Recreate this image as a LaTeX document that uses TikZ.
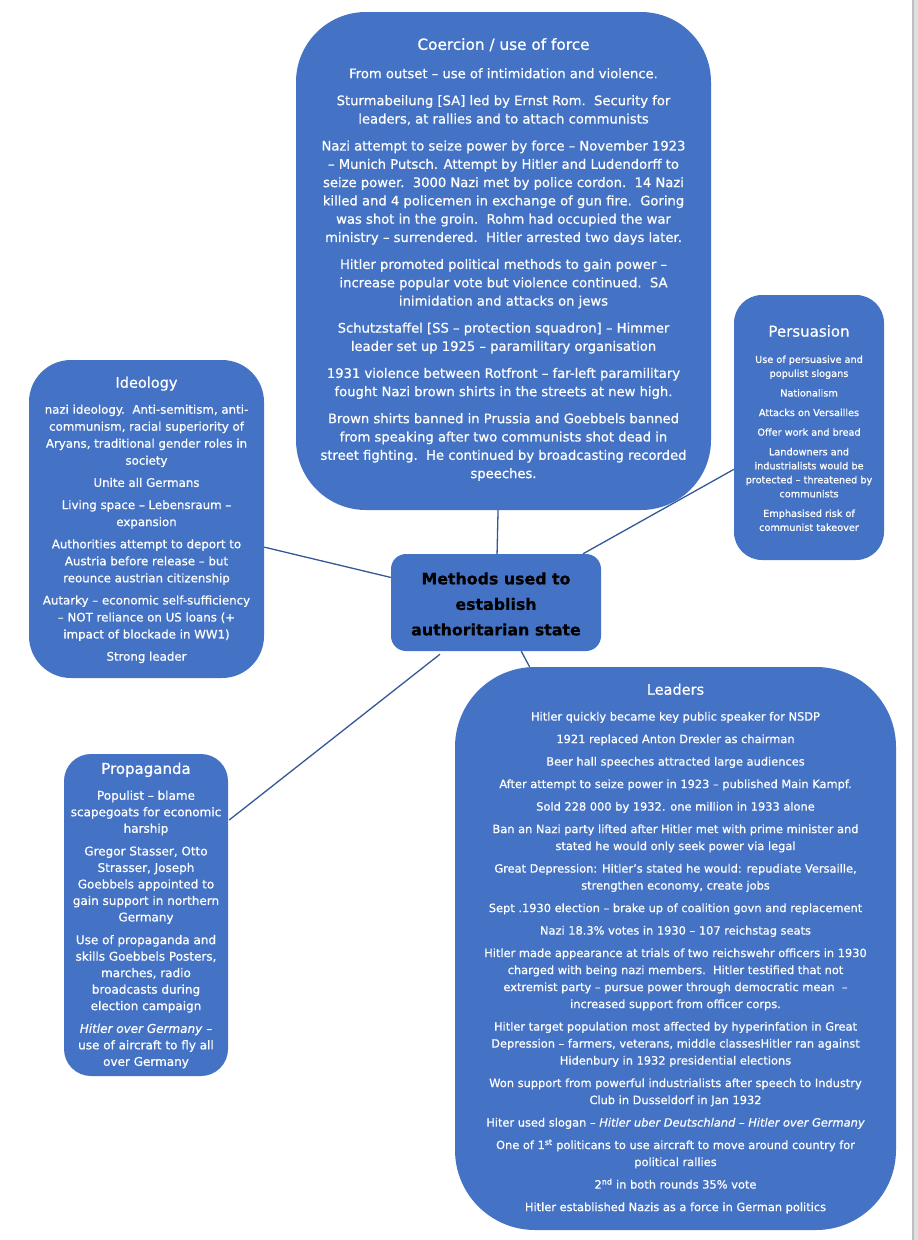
\documentclass[tikz,border=0pt]{standalone}
\usepackage{fontspec}
\setmainfont{DejaVu Sans}[FakeBold=0.7]
\definecolor{boxblue}{RGB}{68,114,196}
\definecolor{linkblue}{RGB}{52,88,150}
\definecolor{edgegray}{RGB}{190,190,190}
\definecolor{edgelight}{RGB}{222,222,222}
\begin{document}
\begin{tikzpicture}[x=1pt,y=-1pt,
  box/.style={fill=boxblue, draw=none, inner sep=0pt},
  txt/.style={text=white, align=center, inner sep=0pt, anchor=north},
  ttl/.style={txt, font=\fontsize{14.5}{17}\selectfont},
  conn/.style={draw=linkblue, line width=1.3pt}]
\useasboundingbox (0,0) rectangle (918,1240);
\fill[white] (0,0) rectangle (918,1240);
\fill[edgelight] (912,0) rectangle (918,1240);
\fill[edgegray] (912,0) rectangle (913.5,1240);

% boxes
\node[box, minimum width=415pt, minimum height=498pt, rounded corners=70pt] (coer) at (503.5,261) {};
\node[box, minimum width=235pt, minimum height=318pt, rounded corners=42pt] (ideo) at (146.5,519) {};
\node[box, minimum width=150pt, minimum height=265pt, rounded corners=28pt] (pers) at (809,427.5) {};
\node[box, minimum width=210pt, minimum height=97pt, rounded corners=15pt] (cen) at (496,602.5) {};
\node[box, minimum width=164pt, minimum height=322pt, rounded corners=27pt] (prop) at (146,915) {};
\node[box, minimum width=441pt, minimum height=563pt, rounded corners=80pt] (lead) at (675.5,948.5) {};

% connectors
\draw[conn] (coer) -- (cen);
\draw[conn] (pers) -- (cen);
\draw[conn] (ideo) -- (cen);
\draw[conn] (lead) -- (cen);
\draw[conn] ([xshift=1pt,yshift=95pt]prop.east) -- ([xshift=-56pt,yshift=-3pt]cen.south);

% central
\node[align=center, inner sep=0pt, text=black, font=\bfseries\fontsize{15.8}{25.5}\selectfont] (centxt) at (496,604)
  {Methods used to\\ establish\\ authoritarian state};

% coercion
\node[ttl, font=\fontsize{15.3}{17}\selectfont] (coert) at (503.5,38) {Coercion / use of force};
\node[txt, font=\fontsize{13.15}{18.3}\selectfont] (coerb) at (503.5,68) {%
From outset – use of intimidation and violence.\\[8.7pt]
Sturmabeilung [SA] led by Ernst Rom.\ \ Security for\\
leaders, at rallies and to attach communists\\[8.7pt]
Nazi attempt to seize power by force – November 1923\\
– Munich Putsch. Attempt by Hitler and Ludendorff to\\
seize power.\ \ 3000 Nazi met by police cordon.\ \ 14 Nazi\\
killed and 4 policemen in exchange of gun fire.\ \ Goring\\
was shot in the groin.\ \ Rohm had occupied the war\\
ministry – surrendered.\ \ Hitler arrested two days later.\\[8.7pt]
Hitler promoted political methods to gain power –\\
increase popular vote but violence continued.\ \ SA\\
inimidation and attacks on jews\\[8.7pt]
Schutzstaffel [SS – protection squadron] – Himmer\\
leader set up 1925 – paramilitary organisation\\[8.7pt]
1931 violence between Rotfront – far-left paramilitary\\
fought Nazi brown shirts in the streets at new high.\\[8.7pt]
Brown shirts banned in Prussia and Goebbels banned\\
from speaking after two communists shot dead in\\
street fighting.\ \ He continued by broadcasting recorded\\
speeches.};

% ideology
\node[ttl] (ideot) at (146.5,376.5) {Ideology};
\node[txt, font=\fontsize{11.8}{17}\selectfont] (ideob) at (146.5,404.5) {%
nazi ideology.\ \ Anti-semitism, anti-\\
communism, racial superiority of\\
Aryans, traditional gender roles in\\
society\\[5.2pt]
Unite all Germans\\[5.2pt]
Living space – Lebensraum –\\
expansion\\[5.2pt]
Authorities attempt to deport to\\
Austria before release – but\\
reounce austrian citizenship\\[5.2pt]
Autarky – economic self-sufficiency\\
– NOT reliance on US loans (+\\
impact of blockade in WW1)\\[5.2pt]
Strong leader};

% persuasion
\node[ttl, font=\fontsize{15}{17}\selectfont] (perst) at (809,325) {Persuasion};
\node[txt, font=\fontsize{9.7}{14}\selectfont] (persb) at (809,355.3) {%
Use of persuasive and\\
populist slogans\\[5.6pt]
Nationalism\\[5.6pt]
Attacks on Versailles\\[5.6pt]
Offer work and bread\\[5.6pt]
Landowners and\\
industrialists would be\\
protected – threatened by\\
communists\\[5.6pt]
Emphasised risk of\\
communist takeover};

% propaganda
\node[ttl, font=\fontsize{15}{17}\selectfont] (propt) at (146,762.3) {Propaganda};
\node[txt, font=\fontsize{12}{16.5}\selectfont] (propb) at (146,790.4) {%
Populist – blame\\
scapegoats for economic\\
harship\\[6.2pt]
Gregor Stasser, Otto\\
Strasser, Joseph\\
Goebbels appointed to\\
gain support in northern\\
Germany\\[6.2pt]
Use of propaganda and\\
skills Goebbels Posters,\\
marches, radio\\
broadcasts during\\
election campaign\\[6.2pt]
\textit{Hitler over Germany} –\\
use of aircraft to fly all\\
over Germany};

% leaders
\node[ttl] (leadt) at (675.5,683.5) {Leaders};
\node[txt, font=\fontsize{11.4}{17}\selectfont] (leadb) at (675.5,711.7) {%
Hitler quickly became key public speaker for NSDP\\[5.5pt]
1921 replaced Anton Drexler as chairman\\[5.5pt]
Beer hall speeches attracted large audiences\\[5.5pt]
After attempt to seize power in 1923 – published Main Kampf.\\[5.5pt]
Sold 228 000 by 1932. one million in 1933 alone\\[5.5pt]
Ban an Nazi party lifted after Hitler met with prime minister and\\
stated he would only seek power via legal\\[5.5pt]
Great Depression: Hitler’s stated he would: repudiate Versaille,\\
strengthen economy, create jobs\\[5.5pt]
Sept .1930 election – brake up of coalition govn and replacement\\[5.5pt]
Nazi 18.3\% votes in 1930 – 107 reichstag seats\\[5.5pt]
Hitler made appearance at trials of two reichswehr officers in 1930\\
charged with being nazi members.\ \ Hitler testified that not\\
extremist party – pursue power through democratic mean\ \ –\\
increased support from officer corps.\\[5.5pt]
Hitler target population most affected by hyperinfation in Great\\
Depression – farmers, veterans, middle classesHitler ran against\\
Hidenbury in 1932 presidential elections\\[5.5pt]
Won support from powerful industrialists after speech to Industry\\
Club in Dusseldorf in Jan 1932\\[5.5pt]
Hiter used slogan – \textit{Hitler uber Deutschland – Hitler over Germany}\\[5.5pt]
One of 1\textsuperscript{st} politicans to use aircraft to move around country for\\
political rallies\\[5.5pt]
2\textsuperscript{nd} in both rounds 35\% vote\\[5.5pt]
Hitler established Nazis as a force in German politics};
\end{tikzpicture}
\end{document}
